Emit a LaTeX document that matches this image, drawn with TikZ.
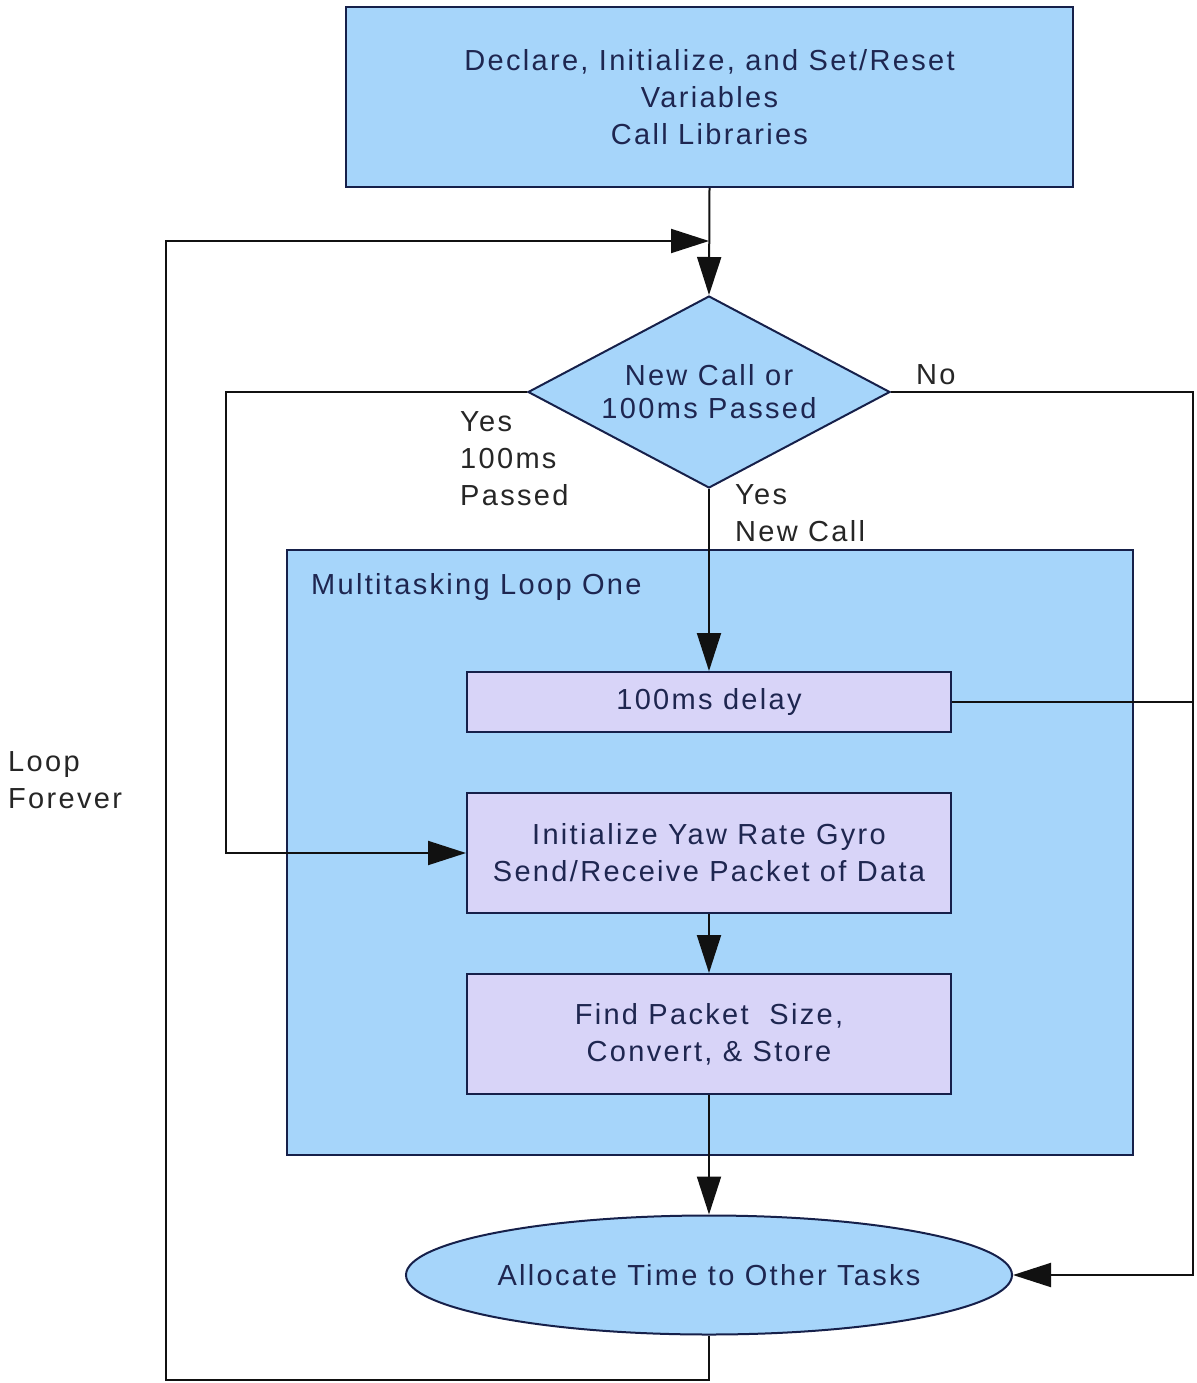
\documentclass[tikz,border=0pt]{standalone}
\usepackage{fontspec}
\setmainfont{Liberation Sans}[LetterSpace=8]
\usetikzlibrary{arrows.meta,shapes.geometric}
\definecolor{boxblue}{RGB}{166,213,250}
\definecolor{boxlav}{RGB}{216,212,248}
\definecolor{navy}{RGB}{22,32,74}
\definecolor{ink}{RGB}{30,38,80}
\definecolor{wire}{RGB}{17,17,17}
\tikzset{
  txt/.style={font=\fontsize{29}{37}\selectfont, text=ink, align=center},
  lbl/.style={font=\fontsize{29}{37}\selectfont, text=black!85, align=left, inner sep=0pt},
  stepbox/.style={draw=navy, line width=2pt, fill=boxlav, txt, minimum width=484pt, inner sep=0pt},
  arr/.style={-{Triangle[length=38pt,width=24pt]}},
  wireline/.style={draw=wire, line width=2pt},
}
\begin{document}
\begin{tikzpicture}[x=1pt,y=-1pt]
\useasboundingbox (0,0) rectangle (1196,1383);

% outer loop container
\node[draw=navy, line width=2pt, fill=boxblue, minimum width=846pt, minimum height=605pt, inner sep=0pt] (loop) at (710,852.5) {};
\node[lbl, text=ink, anchor=west] (looplbl) at (311,587) {Multitasking Loop One};

% initialisation block
\node[draw=navy, line width=2pt, fill=boxblue, txt, minimum width=727pt, minimum height=180pt, inner sep=0pt] (init) at (709.5,97) {Declare, Initialize, and Set/Reset\\Variables\\Call Libraries};

% decision
\node[diamond, shape aspect=1.885, draw=navy, line width=2pt, fill=boxblue, txt, font=\fontsize{29}{33}\selectfont, minimum width=362pt, minimum height=192pt, inner sep=0pt] (dec) at (709,392) {New Call or\\100ms Passed};

% process steps
\node[stepbox, minimum height=60pt] (delay) at (709,702) {100ms delay};
\node[stepbox, minimum height=120pt] (gyro) at (709,853) {Initialize Yaw Rate Gyro\\Send/Receive Packet of Data};
\node[stepbox, minimum height=120pt] (store) at (709,1034) {Find Packet\ \ Size,\\Convert, \& Store};

% terminal
\node[ellipse, draw=navy, line width=2pt, fill=boxblue, txt, minimum width=606pt, minimum height=119pt, inner sep=0pt] (alloc) at (709,1275) {Allocate Time to Other Tasks};

% routing points
\coordinate (lb) at (166,1380);
\coordinate (lt) at (166,241);
\coordinate (merge) at (709,241);
\coordinate (noR) at (1193,392);
\coordinate (yL) at (226,392);

% connectors
\draw[wireline, arr] (init.south) -- (dec.north);
\draw[wireline, arr] (alloc.south) |- (lb) -- (lt) -- (merge);
\draw[wireline, arr] (dec.east) -- (noR) |- (alloc.east);
\draw[wireline] (delay.east) -- (delay.east -| noR);
\draw[wireline, arr] (dec.west) -- (yL) |- (gyro.west);
\draw[wireline, arr] (dec.south) -- (delay.north);
\draw[wireline, arr] (gyro.south) -- (store.north);
\draw[wireline, arr] (store.south) -- (alloc.north);

% branch labels
\node[lbl, anchor=west] (nolbl) at (916,375) {No};
\node[lbl, anchor=north west] (yeslbl) at (460,411) {Yes\\100ms\\Passed};
\node[lbl, anchor=north west] (calllbl) at (735,484) {Yes\\New Call};
\node[lbl, anchor=north west] (foreverlbl) at (8,751) {Loop\\Forever};
\end{tikzpicture}
\end{document}
